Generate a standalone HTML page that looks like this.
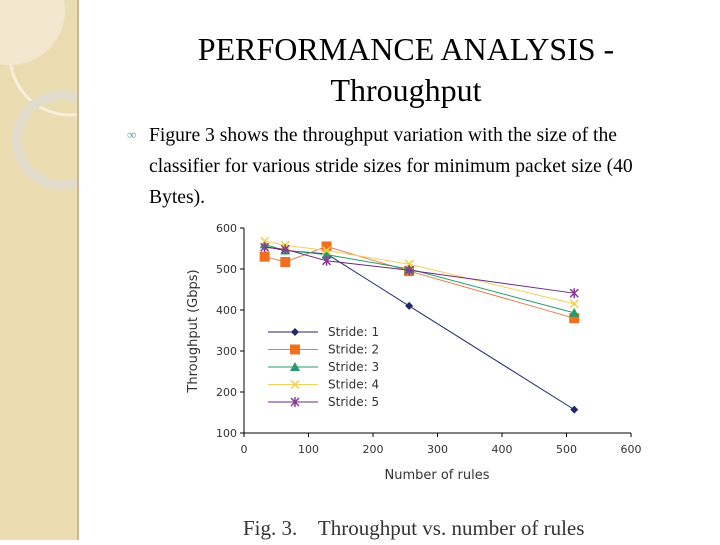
<!DOCTYPE html>
<html><head><meta charset="utf-8"><style>
body{margin:0;width:720px;height:540px;overflow:hidden;background:#fff;position:relative;font-family:"Liberation Serif",serif}
#side{position:absolute;left:0;top:0;width:77px;height:540px;background:#ecdcb2;border-right:2px solid #c9b892}
.t{position:absolute;color:#000}
</style></head><body>
<div id="side">
<svg width="77" height="540"><circle cx="70" cy="55" r="60" fill="none" stroke="#f7efdc" stroke-width="3"/><circle cx="62" cy="140" r="45" fill="none" stroke="#e2dccd" stroke-width="10"/><circle cx="10" cy="10" r="55" fill="#f3e8cf"/></svg>
</div>
<div class="t" style="left:146px;top:29px;width:520px;text-align:center;font-size:32px;line-height:41px">PERFORMANCE ANALYSIS -<br>Throughput</div>
<div class="t" style="left:127px;top:127px;font-size:13px;color:#6a9aa8">&#8734;</div>
<div class="t" style="left:149px;top:120px;width:500px;font-size:19.6px;line-height:31px">Figure 3 shows the throughput variation with the size of the classifier for various stride sizes for minimum packet size (40 Bytes).</div>
<svg id="chart" width="720" height="540" style="position:absolute;left:0;top:0"></svg>
<div class="t" style="left:243px;top:516px;font-size:21px;color:#333">Fig. 3.&nbsp;&nbsp;&nbsp; Throughput vs. number of rules</div>
<script>
const xs=[32,64,128,256,512];
const s1=[555,545,537,410,157];
const s2=[530,517,555,495,380];
const s3=[560,545,535,500,393];
const s4=[568,558,545,512,415];
const s5=[553,548,520,497,441];
const xTicks=[0,100,200,300,400,500,600];
const yTicks=[100,200,300,400,500,600];
const names=["Stride: 1","Stride: 2","Stride: 3","Stride: 4","Stride: 5"];
const series=[s1,s2,s3,s4,s5];
const colors=["#1f2a6b","#f07020","#2a9a6a","#f0d040","#8a3a9a"];
const lineColors=["#1f2a6b","#e08050","#2a9a6a","#f0d060","#6a2a7a"];
const shapes=["diamond","square","triangle","x","star"];
const X=v=>244+v*(631-244)/600, Y=v=>433-(v-100)*(433-228)/500;
const svg=document.getElementById('chart'),NS="http://www.w3.org/2000/svg";
function mk(t,a,p){const e=document.createElementNS(NS,t);for(const k in a)e.setAttribute(k,a[k]);(p||svg).appendChild(e);return e;}
const ax=mk('path',{d:`M${X(0)} ${Y(600)}V${Y(100)}H${X(600)}`,stroke:'#000',fill:'none','stroke-width':1});


yTicks.forEach(v=>{mk('line',{x1:X(0)-4,x2:X(0),y1:Y(v),y2:Y(v),stroke:'#000'});const t=mk('text',{x:X(0)-7,y:Y(v)+4,'text-anchor':'end','font-size':11,'font-family':'DejaVu Sans, sans-serif',fill:'#333'});t.textContent=v;

});
xTicks.forEach(v=>{mk('line',{x1:X(v),x2:X(v),y1:Y(100),y2:Y(100)+4,stroke:'#000'});const t=mk('text',{x:X(v),y:Y(100)+20,'text-anchor':'middle','font-size':11,'font-family':'DejaVu Sans, sans-serif',fill:'#333'});t.textContent=v;

});
const xt=mk('text',{x:437,y:479,'text-anchor':'middle','font-size':13,'font-family':'DejaVu Sans, sans-serif',fill:'#333'});xt.textContent='Number of rules';


const yt=mk('text',{x:0,y:0,transform:'translate(197,331) rotate(-90)','text-anchor':'middle','font-size':13,'font-family':'DejaVu Sans, sans-serif',fill:'#333'});yt.textContent='Throughput (Gbps)';


function marker(s,x,y,c){const g=mk('g',{});
if(s=='diamond')mk('path',{d:`M${x} ${y-4}L${x+4} ${y}L${x} ${y+4}L${x-4} ${y}Z`,fill:c},g);
if(s=='square')mk('rect',{x:x-5,y:y-5,width:10,height:10,fill:c},g);
if(s=='triangle')mk('path',{d:`M${x} ${y-5}L${x+5} ${y+4}L${x-5} ${y+4}Z`,fill:c},g);
if(s=='x')mk('path',{d:`M${x-4} ${y-4}L${x+4} ${y+4}M${x+4} ${y-4}L${x-4} ${y+4}`,stroke:c,'stroke-width':1.5},g);
if(s=='star')mk('path',{d:`M${x-4} ${y-4}L${x+4} ${y+4}M${x+4} ${y-4}L${x-4} ${y+4}M${x} ${y-5}V${y+5}`,stroke:c,'stroke-width':1.5},g);
return g;}
series.forEach((d,i)=>{
const l=mk('polyline',{points:d.map((v,j)=>X(xs[j])+','+Y(v)).join(' '),fill:'none',stroke:lineColors[i],'stroke-width':1});


d.forEach((v,j)=>{const m=marker(shapes[i],X(xs[j]),Y(v),colors[i]);

});
const ly=332+i*17.5;
const g=mk('g',{});


mk('line',{x1:268,x2:318,y1:ly,y2:ly,stroke:lineColors[i]},g);
g.appendChild(marker(shapes[i],295,ly,colors[i]));
const t=mk('text',{x:328,y:ly+4,'font-size':12,'font-family':'DejaVu Sans, sans-serif',fill:'#333'},g);t.textContent=names[i];
});
</script>
</body></html>
